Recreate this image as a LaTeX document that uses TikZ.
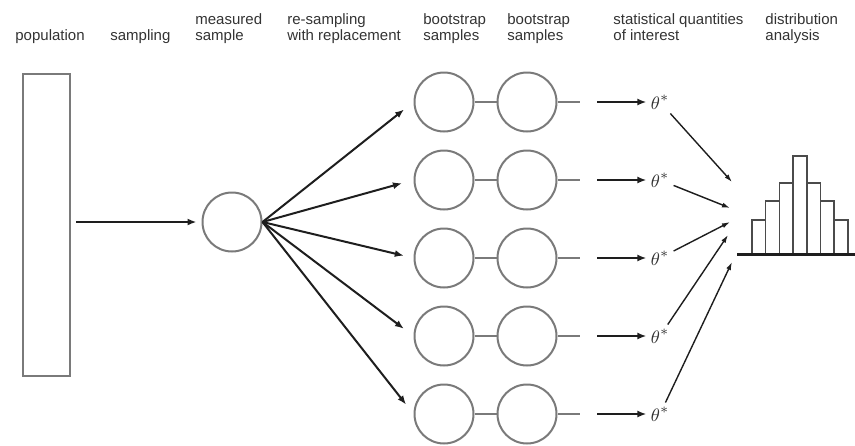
\documentclass[tikz,border=0pt]{standalone}
\usepackage{fontspec}
\setmainfont{Liberation Sans}
\usetikzlibrary{arrows.meta}

\definecolor{rim}{HTML}{7A7A7A}
\definecolor{ink}{HTML}{1E1E1E}
\definecolor{words}{HTML}{333333}

\begin{document}
\begin{tikzpicture}[x=0.5pt, y=-0.5pt, font=\fontsize{7.5}{8}\selectfont]
    \useasboundingbox (0,0) rectangle (855,445);

    % column headings
    \begin{scope}[every node/.style={anchor=base west, align=left, inner sep=0pt, text=words}]
        \node (lab1) at (15,40) {population};
        \node (lab2) at (110,40) {sampling};
        \node (lab3) at (195,40) {measured\\sample};
        \node (lab4) at (287,40) {re-sampling\\with replacement};
        \node (lab5) at (423,40) {bootstrap\\samples};
        \node (lab6) at (507,40) {bootstrap\\samples};
        \node (lab7) at (613,40) {statistical quantities\\of interest};
        \node (lab8) at (765,40) {distribution\\analysis};
    \end{scope}

    % population and measured sample
    \node[draw=rim, line width=1pt, minimum width=23.5pt, minimum height=151pt, inner sep=0pt] (pop) at (46.5,225) {};
    \node[circle, draw=rim, line width=1pt, minimum size=29.5pt, inner sep=0pt] (s) at (232,222) {};

    % bootstrap samples
    \begin{scope}[every node/.style={circle, draw=rim, line width=1pt, minimum size=29.5pt, inner sep=0pt}]
        \node (a1) at (444,102) {};
        \node (b1) at (527,102) {};
        \node (a2) at (444,180) {};
        \node (b2) at (527,180) {};
        \node (a3) at (444,258) {};
        \node (b3) at (527,258) {};
        \node (a4) at (444,336) {};
        \node (b4) at (527,336) {};
        \node (a5) at (444,414) {};
        \node (b5) at (527,414) {};
    \end{scope}

    \coordinate (e1) at (580,102);
    \coordinate (e2) at (580,180);
    \coordinate (e3) at (580,258);
    \coordinate (e4) at (580,336);
    \coordinate (e5) at (580,414);
    \coordinate (f1) at (597,102);
    \coordinate (f2) at (597,180);
    \coordinate (f3) at (597,258);
    \coordinate (f4) at (597,336);
    \coordinate (f5) at (597,414);

    % statistics
    \begin{scope}[every node/.style={inner sep=2pt, text=words, font=\fontsize{9.5}{10}\selectfont}]
        \node (t1) at (660,102) {$\theta^*$};
        \node (t2) at (660,180) {$\theta^*$};
        \node (t3) at (660,258) {$\theta^*$};
        \node (t4) at (660,336) {$\theta^*$};
        \node (t5) at (660,414) {$\theta^*$};
    \end{scope}

    \coordinate (p1) at (732,182);
    \coordinate (p2) at (730,208);
    \coordinate (p3) at (730,222);
    \coordinate (p4) at (728,235);
    \coordinate (p5) at (732,262);

    \begin{scope}[every edge/.style={draw=ink, line width=1pt}]
        \path [-{Latex[length=4.5pt,width=3.5pt]}] (pop.east |- s) edge[shorten <=2.5pt, shorten >=2.5pt] (s);
        \path [-{Latex[length=4.5pt,width=3.5pt]}] (s.east) edge[shorten >=6pt] (a1.west);
        \path [-{Latex[length=4.5pt,width=3.5pt]}] (s.east) edge[shorten >=6pt] (a2.west);
        \path [-{Latex[length=4.5pt,width=3.5pt]}] (s.east) edge[shorten >=5pt] (a3.west);
        \path [-{Latex[length=4.5pt,width=3.5pt]}] (s.east) edge[shorten >=6pt] (a4.west);
        \path [-{Latex[length=4.5pt,width=3.5pt]}] (s.east) edge[shorten >=6pt] (a5.west);

        \path [-{Latex[length=4.5pt,width=3.5pt]}] (f1) edge (t1);
        \path [-{Latex[length=4.5pt,width=3.5pt]}] (f2) edge (t2);
        \path [-{Latex[length=4.5pt,width=3.5pt]}] (f3) edge (t3);
        \path [-{Latex[length=4.5pt,width=3.5pt]}] (f4) edge (t4);
        \path [-{Latex[length=4.5pt,width=3.5pt]}] (f5) edge (t5);
    \end{scope}

    \begin{scope}[every edge/.style={draw=rim, line width=1pt}]
        \path [-] (a1) edge (b1);
        \path [-] (a2) edge (b2);
        \path [-] (a3) edge (b3);
        \path [-] (a4) edge (b4);
        \path [-] (a5) edge (b5);
        \path [-] (b1) edge (e1);
        \path [-] (b2) edge (e2);
        \path [-] (b3) edge (e3);
        \path [-] (b4) edge (e4);
        \path [-] (b5) edge (e5);
    \end{scope}

    \begin{scope}[every edge/.style={draw=ink, line width=0.7pt}]
        \path [-{Latex[length=4pt,width=2.5pt]}] (t1) edge (p1);
        \path [-{Latex[length=4pt,width=2.5pt]}] (t2) edge (p2);
        \path [-{Latex[length=4pt,width=2.5pt]}] (t3) edge (p3);
        \path [-{Latex[length=4pt,width=2.5pt]}] (t4) edge (p4);
        \path [-{Latex[length=4pt,width=2.5pt]}] (t5) edge (p5);
    \end{scope}

    % histogram
    \draw[draw=ink!80, line width=0.75pt]
        (752,254) rectangle (765.7,220)
        (765.7,254) rectangle (779.4,201)
        (779.4,254) rectangle (793.1,183)
        (793.1,254) rectangle (806.8,156)
        (806.8,254) rectangle (820.5,183)
        (820.5,254) rectangle (834.2,201)
        (834.2,254) rectangle (847.9,220);
    \draw[draw=ink, line width=1.5pt] (737,254) -- (855,254);
\end{tikzpicture}
\end{document}
